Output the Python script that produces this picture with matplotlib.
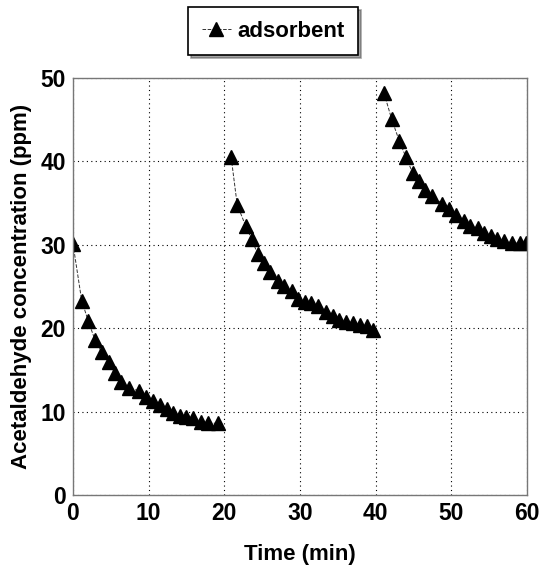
import matplotlib
matplotlib.use("Agg")
import matplotlib.pyplot as plt

# values (three adsorption cycles)
t1 = [0.0, 1.15, 2.0, 2.9, 3.8, 4.75, 5.5, 6.4, 7.4, 8.7, 9.6, 10.6, 11.5,
      12.4, 13.25, 14.1, 15.0, 15.9, 16.9, 17.9, 19.1]
c1 = [30.1, 23.3, 20.9, 18.6, 17.1, 16.0, 14.6, 13.5, 12.8, 12.5, 11.7, 11.3,
      10.8, 10.3, 9.8, 9.5, 9.3, 9.2, 8.7, 8.6, 8.6]
t2 = [20.9, 21.7, 22.8, 23.6, 24.4, 25.2, 26.1, 27.1, 27.9, 28.9, 29.7, 30.6,
      31.4, 32.4, 33.4, 34.4, 35.2, 36.1, 37.0, 37.9, 38.8, 39.7]
c2 = [40.5, 34.8, 32.3, 30.7, 28.9, 27.8, 26.7, 25.7, 25.1, 24.4, 23.5, 23.1,
      23.0, 22.6, 21.9, 21.4, 21.0, 20.7, 20.6, 20.4, 20.2, 19.8]
t3 = [41.1, 42.1, 43.1, 44.0, 44.9, 45.7, 46.5, 47.5, 48.8, 49.7, 50.6, 51.7,
      52.5, 53.5, 54.3, 55.2, 56.0, 56.9, 58.0, 59.1, 59.9]
c3 = [48.2, 45.1, 42.5, 40.5, 38.6, 37.6, 36.6, 35.9, 34.9, 34.3, 33.6, 32.9,
      32.2, 32.0, 31.4, 31.0, 30.7, 30.4, 30.2, 30.2, 30.2]
xticks = [0, 10, 20, 30, 40, 50, 60]
yticks = [0, 10, 20, 30, 40, 50]

plt.rcParams["font.family"] = ["Liberation Sans", "DejaVu Sans"]
plt.rcParams["font.weight"] = "bold"

fig = plt.figure(figsize=(5.53, 5.65), dpi=100)
ax = fig.add_axes([0.132, 0.124, 0.821, 0.738])

style = dict(color="#333333", marker="^", markersize=9.5, linestyle="--",
             linewidth=0.7, markerfacecolor="black", markeredgecolor="black")
ax.plot(t1, c1, label="adsorbent", **style)
ax.plot(t2, c2, **style)
ax.plot(t3, c3, **style)

ax.set_xlim(0, 60)
ax.set_ylim(0, 50)
ax.set_xticks(xticks)
ax.set_yticks(yticks)
ax.tick_params(length=0, labelsize=16.5, pad=5)
for lab in ax.get_xticklabels() + ax.get_yticklabels():
    lab.set_fontweight("bold")
ax.grid(True, color="black", linestyle=(0, (1, 3)), linewidth=0.8)
for s in ax.spines.values():
    s.set_color("#777777")
    s.set_linewidth(1.0)

ax.set_xlabel("Time (min)", fontsize=16, fontweight="bold", labelpad=14)
ax.set_ylabel("Acetaldehyde concentration (ppm)", fontsize=16,
              fontweight="bold", labelpad=6)

leg = fig.legend(loc="center", bbox_to_anchor=(0.494, 0.945),
                 shadow=True, fancybox=False, framealpha=1, edgecolor="black",
                 handlelength=1.3, handletextpad=0.3, borderpad=0.6,
                 prop={"weight": "bold", "size": 16})
leg.get_frame().set_linewidth(1.2)

fig.savefig("out.png", dpi=100)
